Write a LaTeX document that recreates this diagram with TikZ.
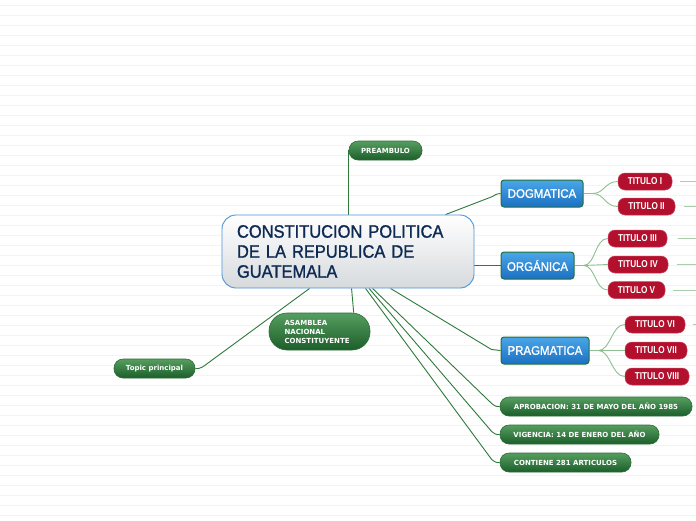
\documentclass[tikz,border=0pt]{standalone}
\usepackage{fontspec}
\setmainfont{Liberation Sans}
\newfontfamily\dvfont{DejaVu Sans}
\newfontfamily\robofont{Liberation Sans}[FakeStretch=0.915,FakeBold=1.2]
\newfontfamily\narrowfont{Liberation Sans}[FakeStretch=0.82]
\usetikzlibrary{calc,backgrounds}
\definecolor{bgl}{HTML}{F3F3F3}
\definecolor{conc}{HTML}{2E7A3A}
\definecolor{subc}{HTML}{8EBF90}
\definecolor{stubc}{HTML}{A9D0AA}
\definecolor{gtop}{HTML}{569E60}
\definecolor{gbot}{HTML}{1C5E2A}
\definecolor{gbrd}{HTML}{2A6E36}
\definecolor{btop}{HTML}{4AA6E8}
\definecolor{bbot}{HTML}{1B70C2}
\definecolor{bbrd}{HTML}{22703A}
\definecolor{rfill}{HTML}{B3102D}
\definecolor{rbrd}{HTML}{C8465E}
\definecolor{navy}{HTML}{0E2A52}
\definecolor{cbrd}{HTML}{4D95D6}
\definecolor{cbot}{HTML}{D6DADD}
\begin{document}
\begin{tikzpicture}[x=1pt,y=-1pt,
  central/.style={draw=cbrd, line width=0.9pt, top color=white, bottom color=cbot,
    rounded corners=14pt, text width=222pt, align=left, minimum width=252pt,
    minimum height=73pt, inner xsep=15pt, inner ysep=0pt, text=navy,
    font=\robofont\fontsize{18}{20}\selectfont},
  gnode/.style={draw=gbrd, line width=0.6pt, top color=gtop, bottom color=gbot,
    rounded corners=9pt, text=white, minimum height=19pt, inner sep=0pt,
    font=\dvfont\bfseries\fontsize{7}{9}\selectfont},
  bnode/.style={draw=bbrd, line width=1pt, top color=btop, bottom color=bbot,
    rounded corners=3pt, text=white, minimum height=27pt, inner sep=0pt,
    font=\robofont\fontsize{12.5}{14}\selectfont},
  rnode/.style={draw=rbrd, line width=0.5pt, fill=rfill, rounded corners=7pt,
    text=white, minimum height=17pt, inner sep=0pt,
    font=\narrowfont\bfseries\fontsize{10}{12}\selectfont},
  conn/.style={draw=conc, line width=0.9pt},
  sub/.style={draw=subc, line width=0.9pt},
  stub/.style={draw=stubc, line width=0.9pt},
  bgline/.style={draw=bgl, line width=0.6pt}]
\useasboundingbox (0,0) rectangle (696,520);

% nodes
\node[central] (c) at (348,251.5) {CONSTITUCION POLITICA\\DE LA REPUBLICA DE\\GUATEMALA};
\node[gnode, minimum width=73pt] (pre) at (385.5,150.5) {PREAMBULO};
\node[bnode, minimum width=82pt] (dog) at (542,193.5) {DOGMATICA};
\node[bnode, minimum width=73pt] (org) at (537.5,265.5) {ORGÁNICA};
\node[bnode, minimum width=88pt] (prag) at (545,350.5) {PRAGMATICA};
\node[rnode, minimum width=54pt] (t1) at (645,181.5) {TITULO I};
\node[rnode, minimum width=57pt] (t2) at (646.5,206.5) {TITULO II};
\node[rnode, minimum width=59pt] (t3) at (637.5,238.5) {TITULO III};
\node[rnode, minimum width=60pt] (t4) at (638,264.5) {TITULO IV};
\node[rnode, minimum width=57pt] (t5) at (636.5,290) {TITULO V};
\node[rnode, minimum width=60pt] (t6) at (655,324.5) {TITULO VI};
\node[rnode, minimum width=62pt] (t7) at (656,350.5) {TITULO VII};
\node[rnode, minimum width=64pt] (t8) at (657,376.5) {TITULO VIII};
\node[gnode, minimum width=192pt] (apro) at (596,406.5) {APROBACION: 31 DE MAYO DEL AÑO 1985};
\node[gnode, minimum width=159pt] (vig) at (579.5,434.5) {VIGENCIA: 14 DE ENERO DEL AÑO};
\node[gnode, minimum width=131pt] (cont) at (565.5,462.5) {CONTIENE 281 ARTICULOS};
\node[gnode, minimum height=37pt, rounded corners=18pt, text width=70pt, align=left,
  inner xsep=15.5pt, font=\dvfont\bfseries\fontsize{7}{9}\selectfont] (asam) at (319.5,331.5)
  {ASAMBLEA\\NACIONAL\\CONSTITUYENTE};
\node[gnode, minimum width=81pt] (topic) at (154.5,368.5) {Topic principal};
\coordinate (re) at (700,0);

\begin{scope}[on background layer]
\fill[white] (0,0) rectangle (696,520);
\foreach \yy in {5,15,...,515} \draw[bgline] (0,\yy) -- (696,\yy);

\draw[conn] (c.north) -- (c.north |- pre.west) -- (pre.west);
\draw[conn] ($(c.north west)+(224,0)$) -- ($(dog.west)+(-8,3)$) .. controls ($(dog.west)+(-4,0.5)$) .. (dog.west);
\draw[conn] (c.east |- org.west) -- (org.west);
\draw[conn] ($(c.south west)+(169,0)$) -- ($(prag.west)+(-9,-1)$) .. controls ($(prag.west)+(-5,0)$) .. (prag.west);
\draw[conn] ($(c.south west)+(151,0)$) -- ($(apro.west)+(-8,-3)$) .. controls ($(apro.west)+(-4,0)$) .. (apro.west);
\draw[conn] ($(c.south west)+(147.5,0)$) -- ($(vig.west)+(-8,-3)$) .. controls ($(vig.west)+(-4,0)$) .. (vig.west);
\draw[conn] ($(c.south west)+(144,0)$) -- ($(cont.west)+(-8,-3)$) .. controls ($(cont.west)+(-4,0)$) .. (cont.west);
\draw[conn] ($(c.south west)+(130,0)$) -- ($(asam.north west)+(85,0)$);
\draw[conn] ($(c.south west)+(88,0)$) -- ($(topic.east)+(8,-2)$) .. controls ($(topic.east)+(4,0)$) .. (topic.east);

\draw[sub] (dog.east) -- ++(9,0) coordinate (dj);
\draw[sub] (dj) .. controls +(12,0) and ($(t1.west)+(-13,0)$) .. (t1.west);
\draw[sub] (dj) .. controls +(12,0) and ($(t2.west)+(-13,0)$) .. (t2.west);
\draw[sub] (org.east) -- ++(9,0) coordinate (oj);
\draw[sub] (oj) .. controls +(12,0) and ($(t3.west)+(-13,0)$) .. (t3.west);
\draw[sub] (oj) -- (t4.west);
\draw[sub] (oj) .. controls +(12,0) and ($(t5.west)+(-13,0)$) .. (t5.west);
\draw[sub] (prag.east) -- ++(9,0) coordinate (pj);
\draw[sub] (pj) .. controls +(12,0) and ($(t6.west)+(-13,0)$) .. (t6.west);
\draw[sub] (pj) -- (t7.west);
\draw[sub] (pj) .. controls +(12,0) and ($(t8.west)+(-13,0)$) .. (t8.west);

\draw[stub] ($(t1.east)+(8,0)$) -- (t1.east -| re);
\draw[stub] ($(t2.east)+(9,0)$) -- (t2.east -| re);
\draw[stub] ($(t3.east)+(11,0)$) -- (t3.east -| re);
\draw[stub] ($(t4.east)+(9,0)$) -- (t4.east -| re);
\draw[stub] ($(t5.east)+(8,0)$) -- (t5.east -| re);
\draw[stub] ($(t6.east)+(8,0)$) -- (t6.east -| re);
\end{scope}
\end{tikzpicture}
\end{document}
